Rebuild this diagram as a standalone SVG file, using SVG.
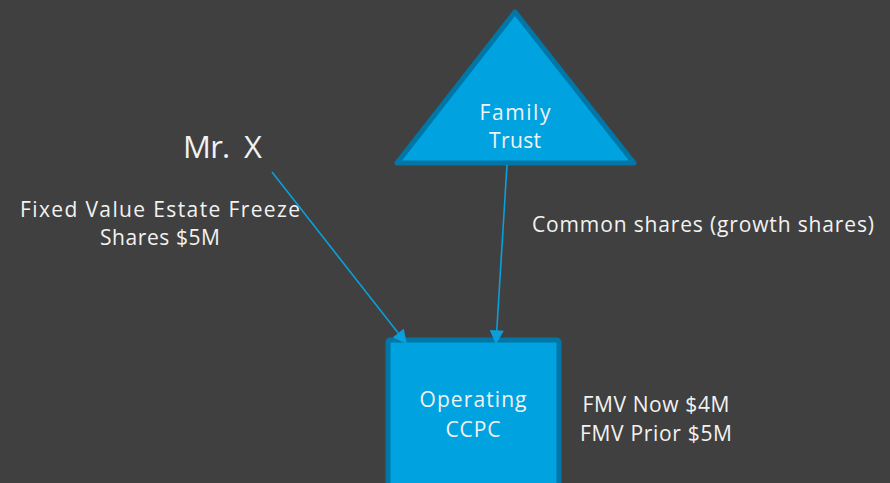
<svg xmlns="http://www.w3.org/2000/svg" width="890" height="483" viewBox="0 0 890 483">
  <style>
    .t { font-family: "Open Sans", "DejaVu Sans", sans-serif; fill: #f2f2f2; font-size: 21px; }
    .c { text-anchor: middle; }
    .shape { fill: #00a3e0; stroke: #0077a6; stroke-width: 5; stroke-linejoin: round; }
    .link { stroke: #0a9fdc; stroke-width: 1.6; fill: none; }
  </style>
  <defs>
    <marker id="arrow" viewBox="0 0 10 10" refX="9" refY="5" markerWidth="15" markerHeight="14" markerUnits="userSpaceOnUse" orient="auto">
      <path d="M0,0 L10,5 L0,10 Z" fill="#0a9fdc"/>
    </marker>
  </defs>
  <rect width="890" height="483" fill="#404040"/>

  <g id="family-trust">
    <polygon class="shape" points="515,12 634,163 397,163"/>
    <text class="t c" x="515" y="120" textLength="71" lengthAdjust="spacing">Family</text>
    <text class="t c" x="515" y="148" textLength="52" lengthAdjust="spacing">Trust</text>
  </g>

  <g id="operating-ccpc">
    <rect class="shape" x="388" y="340" width="171" height="160" rx="2"/>
    <text class="t c" x="473" y="407" textLength="107" lengthAdjust="spacing">Operating</text>
    <text class="t c" x="473" y="437" textLength="55" lengthAdjust="spacing">CCPC</text>
  </g>

  <g id="mr-x">
    <text class="t" x="183" y="158" style="font-size:31px" textLength="79" lengthAdjust="spacing">Mr.&#160; X</text>
  </g>

  <g id="labels">
    <text class="t c" x="160" y="217" textLength="280" lengthAdjust="spacing">Fixed Value Estate Freeze</text>
    <text class="t c" x="160" y="245" textLength="120" lengthAdjust="spacing">Shares $5M</text>
    <text class="t" x="532" y="232" textLength="342" lengthAdjust="spacing">Common shares (growth shares)</text>
    <text class="t c" x="656" y="412" textLength="147" lengthAdjust="spacing">FMV Now $4M</text>
    <text class="t c" x="656" y="441" textLength="152" lengthAdjust="spacing">FMV Prior $5M</text>
  </g>

  <g id="connectors">
    <path class="link" d="M272,172 L406,343" marker-end="url(#arrow)"/>
    <path class="link" d="M507,165 L496,343" marker-end="url(#arrow)"/>
  </g>
</svg>
